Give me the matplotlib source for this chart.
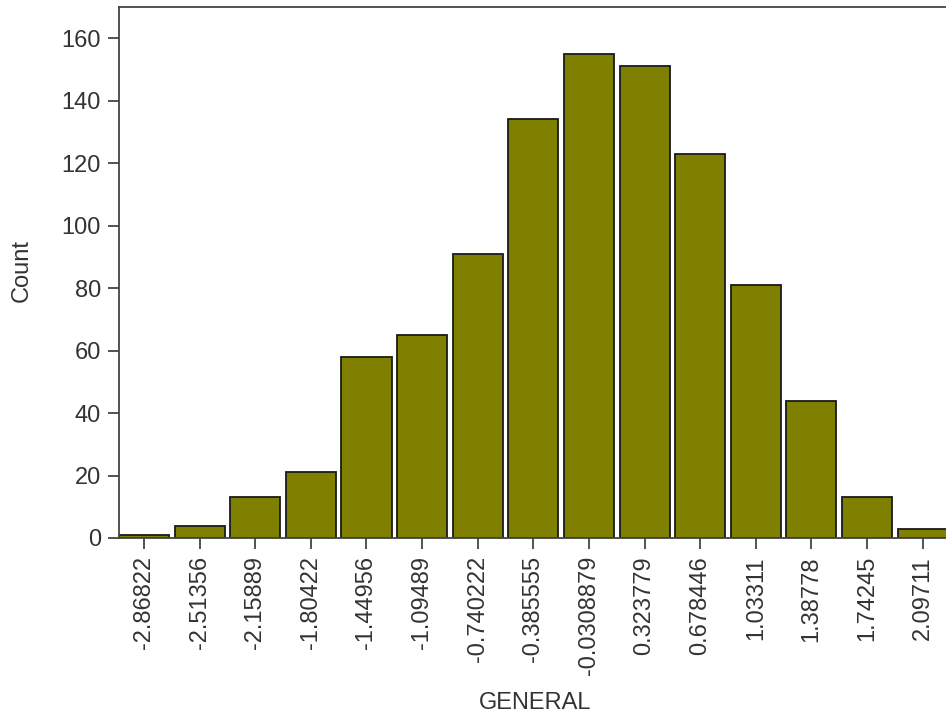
import matplotlib
matplotlib.use("Agg")
import matplotlib.pyplot as plt

plt.rcParams['font.family'] = ['Liberation Sans', 'DejaVu Sans']

bin_labels = ["-2.86822", "-2.51356", "-2.15889", "-1.80422", "-1.44956", "-1.09489",
              "-0.740222", "-0.385555", "-0.0308879", "0.323779", "0.678446", "1.03311",
              "1.38778", "1.74245", "2.09711"]
counts = [1, 4, 13, 21, 58, 65, 91, 134, 155, 151, 123, 81, 44, 13, 3]
yticks = [0, 20, 40, 60, 80, 100, 120, 140, 160]

fig = plt.figure(figsize=(9.46, 7.16), dpi=100)
ax = fig.add_axes([119/946, 1-538/716, 1 - 119/946, (538-7)/716])

x = list(range(len(counts)))
ax.bar(x, counts, width=0.9, color='#808000', edgecolor='#1a1a1a', linewidth=1.3)

ax.set_xlim(-0.45, 14.42)
ax.set_ylim(0, 170)
ax.set_yticks(yticks)
ax.set_xticks(x)
ax.set_xticklabels(bin_labels, rotation=90, va='top', ha='center')

for s in ['left', 'top', 'bottom']:
    ax.spines[s].set_color('#444444')
    ax.spines[s].set_linewidth(1.3)
ax.spines['right'].set_visible(False)

ax.tick_params(axis='both', colors='#444444', labelcolor='#333333', labelsize=17, length=8, width=1.3, pad=5)

fig.text(22/946, 1-270/716, 'Count', rotation=90, ha='center', va='center', fontsize=17, color='#333333')
fig.text(535/946, 1-703/716, 'GENERAL', ha='center', va='center', fontsize=17, color='#333333')

fig.savefig('out.png', dpi=100)
